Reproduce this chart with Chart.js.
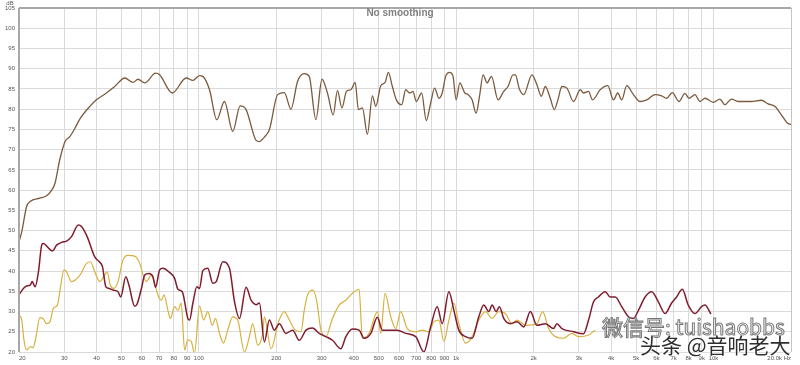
<!DOCTYPE html>
<html lang="zh">
<head>
  <meta charset="UTF-8">
  <title>No smoothing</title>
  <script src="https://cdn.jsdelivr.net/npm/chart.js"></script>
  <style>
    body { margin: 0; background: #fff; }
    #wrap { position: relative; width: 800px; height: 365px; }
    .wm { position: absolute; font-family: "Noto Sans CJK SC", sans-serif; white-space: nowrap; }
    #wm1 { left: 602px; top: 311px; font-size: 21px; color: rgba(255,255,255,0.9); -webkit-text-stroke: 1px #777; }
    #wm2 { left: 640px; top: 329px; font-size: 21px; color: #2e2e2e; text-shadow: 0 0 2px #fff, 0 0 2px #fff; }
  </style>
  <script>
    // axis ticks (REW style log grid)
    const freqTicks = [20, 30, 40, 50, 60, 70, 80, 90, 100, 200, 300, 400, 500, 600, 700, 800, 900,
      1000, 2000, 3000, 4000, 5000, 6000, 7000, 8000, 9000, 10000, 20000];
    const freqLabels = ['20', '30', '40', '50', '60', '70', '80', '90', '100', '200', '300', '400', '500',
      '600', '700', '800', '900', '1k', '2k', '3k', '4k', '5k', '6k', '7k', '8k', '9k', '10k', '20.0k Hz'];
    const dbTicks = [20, 25, 30, 35, 40, 45, 50, 55, 60, 65, 70, 75, 80, 85, 90, 95, 100, 105];

    // brown - main response
    const brownFreq = [20, 20.5, 21.4, 22.1, 24.1, 25.6, 26.8, 27.6, 28.8, 30.2, 31.5, 33, 34.5, 37.7, 40, 43.7,
      47.1, 51.5, 55.5, 58, 61.6, 67.9, 70.4, 78.8, 89.3, 94.8, 100.6, 103.6, 110, 117.4, 125.7, 135.4, 144.7,
      152.6, 166.9, 171.9, 179.7, 187.9, 202.3, 214.8, 228, 241.9, 256.7, 268.4, 285, 300.8, 316, 332.6, 345.6,
      359.6, 374.6, 389.6, 405, 416.8, 432, 451.8, 472.4, 487, 509.2, 529, 545, 564.8, 585.4, 614.2, 636.4,
      659.6, 679.2, 699.6, 734, 765, 795.6, 824.6, 856.8, 882.4, 909.8, 942.8, 970.6, 999.6, 1033, 1080, 1113,
      1153, 1195, 1232, 1272, 1318, 1371, 1454, 1530, 1590, 1662, 1698, 1760, 1830, 1970, 2060, 2142, 2220,
      2320, 2406, 2484, 2574, 2692, 2858, 3034, 3124, 3268, 3386, 3626, 3882, 4084, 4244, 4398, 4598, 4884,
      5184, 5498, 5924, 6286, 6572, 6916, 7338, 7746, 8028, 8468, 8854, 9260, 9974, 10586, 11068, 11738,
      12462, 13228, 14032, 15346, 16292, 17294, 18344, 19352, 20000];
    const brownDb = [47.3, 49.7, 55.9, 57.2, 58, 58.6, 60, 61.7, 67.5, 72, 73.2, 75.3, 77.6, 80.7, 82.3, 84,
      85.6, 87.7, 86.6, 87.4, 86.5, 88.9, 88.5, 84, 87.7, 87.1, 88.3, 88.1, 84.8, 77.4, 81.9, 74.5, 80.8,
      79.9, 72.3, 72, 73.1, 74.9, 83.6, 84.1, 80, 86.9, 88.8, 88.1, 77.4, 87.4, 84, 78.6, 84.6,
      80.3, 84.4, 84.8, 86.6, 79.9, 80.3, 73.8, 83.3, 80.7, 85.8, 86.6, 89.1, 85.6, 82.3, 81.1, 84.8,
      84, 84.4, 81.9, 84, 77.2, 81.5, 85.2, 82.7, 84, 88.1, 89.1, 88.3, 82.3, 86.5, 84, 83.6,
      82.3, 79, 83.2, 88.5, 86.5, 88.1, 82.3, 84.4, 85.6, 88.5, 88.5, 85, 83.6, 88.5, 86, 83.2, 85.6,
      82.7, 79.9, 82.3, 85.6, 85.2, 81.9, 84.8, 84, 84.4, 82.3, 84.8, 85.8, 82.3, 84, 82.3, 85.8, 83.6,
      81.9, 82.3, 83.6, 83.3, 82.7, 84.1, 81.9, 83.9, 82.7, 83.6, 81.9, 82.7, 81.7, 82.5, 81.1, 82.5,
      81.9, 81.9, 81.9, 82.2, 81.3, 80.7, 78.6, 76.6, 76.2];

    // dark red
    const redFreq = [20, 20.8, 21.4, 22.1, 22.5, 23.1, 23.8, 24.5, 24.8, 27, 28, 29.3, 30.6, 32, 34, 35, 36.8,
      39.4, 41, 42.2, 43.5, 44.8, 46.4, 48.5, 49.7, 52, 53.5, 56.3, 57.5, 59.8, 61.6, 64, 66.3, 67.9, 70.4,
      72.5, 76.5, 80.5, 82.9, 86.2, 90.6, 92, 94.8, 98.2, 100.6, 103.6, 108.3, 113.3, 116.8, 123.9, 131.5,
      137.5, 143.8, 152.6, 159.6, 166.9, 171.9, 179.7, 187.9, 196.4, 205.4, 218, 231.4, 245.6, 260.8, 276.4,
      293.6, 311.6, 330.6, 356.2, 372.6, 395, 419.4, 438.6, 465.8, 494, 516.4, 548.4, 590.6, 636.4, 696, 749,
      795.6, 843.8, 882.4, 936.6, 979.4, 1024, 1087, 1153, 1224, 1280, 1339, 1379, 1429, 1473, 1530, 1625,
      1724, 1830, 1942, 2060, 2220, 2390, 2462, 2574, 2858, 3124, 3268, 3418, 3572, 3794, 3968, 4148, 4398,
      4670, 4884, 5106, 5420, 5748, 6102, 6480, 6872, 7186, 7562, 7974, 8468, 8984, 9260, 9772];
    const redDb = [34.1, 35.7, 36.3, 36.5, 37.4, 36.1, 39.8, 46.4, 46.8, 45, 46.4, 47.1, 47.4, 48.5, 51.4, 51,
      48.5, 43.5, 42.3, 41.1, 36.1, 35.7, 35.3, 34.9, 33.6, 38.6, 36.5, 31.3, 31.8, 35.7, 39, 39.4, 38.6, 36,
      40.3, 40.7, 39.8, 38.2, 35.5, 34.9, 28.3, 27.9, 32.1, 36.1, 35.7, 40.1, 40.7, 37, 37.4, 42.3, 40.7,
      32.5, 28.3, 36, 32.8, 31.7, 32.1, 22.5, 27.9, 25.4, 27, 24.6, 25.4, 22.9, 25.4, 25.9,
      24.6, 23.8, 22.9, 20.8, 23.8, 25.7, 25.4, 23.4, 24.6, 28.6, 25.4, 25.4, 25.4, 24.6, 23.8, 20,
      26.2, 31.2, 27, 34.9, 30.3, 25.4, 23.8, 23.4, 28.7, 31.6, 30, 31.6, 30, 31.2, 28.3, 27,
      27.5, 26.2, 30, 26.6, 27, 25.8, 27, 25.8, 25, 24.5, 27.9, 32.4, 33.6, 34.9, 33.6, 33.6, 31.2,
      28.7, 28.3, 30.3, 33.6, 34.9, 32.4, 29.5, 32.1, 33.6, 35.5, 31.6, 29.5, 31.2, 31.6, 29.4];

    // yellow
    const yellowFreq = [20, 20.5, 20.9, 21.4, 22.1, 22.7, 23.3, 24.1, 24.8, 25.6, 26.4, 27.2, 28.2, 29, 29.9,
      30.6, 32, 34.5, 36.6, 37.9, 39.4, 41.2, 42.7, 44, 45.3, 46.7, 48.5, 50.7, 53, 56.3, 58.9, 61, 62.5,
      65.4, 67.3, 69.3, 71.5, 73.2, 75.8, 77.5, 80.5, 82.9, 85.4, 88, 90.6, 93.4, 96.2, 100.6, 104.3, 108.3,
      112.7, 116, 120.3, 124.6, 129.5, 135.4, 141.6, 150.3, 157.2, 161.9, 169.3, 177, 179.7, 190.8, 204.1,
      214.8, 224.6, 237, 249.4, 256.7, 264.4, 278.2, 286.6, 298.2, 311.6, 330.6, 350.8, 372.6, 395, 419.4,
      432, 458.8, 494, 509.2, 529, 556.8, 582.2, 608.6, 645.6, 696, 738.2, 783.4, 819.2, 856.8, 895.8, 936.6,
      979.4, 1024, 1087, 1153, 1224, 1300, 1379, 1463, 1554, 1648, 1724, 1858, 2060, 2168, 2286, 2428, 2614,
      2816, 2988, 3268, 3468];
    const yellowDb = [29.1, 27.9, 23, 20.5, 21.3, 21.1, 23.8, 28.5, 28.3, 27, 27.5, 30.8, 31.6, 36.1, 40.3,
      39.8, 37.4, 39, 41.9, 42.3, 39.8, 37.4, 38.6, 39.8, 36.5, 35.7, 37.4, 42.7, 43.9, 43.7, 41.9, 38.6, 37.4,
      39, 37, 34.1, 32.8, 34.1, 30.3, 28.3, 31.2, 30.3, 32.1, 20.5, 23, 22.6, 19.8, 31.4, 27.9, 30,
      26.6, 28.3, 24.6, 22.2, 25.4, 28.7, 27.9, 20, 23.8, 27, 21.7, 24.6, 28.7, 20.8, 27.5,
      30, 27.9, 25.4, 25, 30.3, 34.1, 35.3, 32.8, 25.4, 23.8, 28.3, 31.6, 32.8, 34.5, 35.5,
      23.4, 24.6, 30, 24.6, 34.5, 28.7, 25.8, 30, 25.8, 25, 25.4, 25, 27.5, 27.9, 22.6, 27.9,
      32.1, 27, 22.2, 23.8, 27.9, 30, 28.3, 30, 29.5, 27, 27.9, 26.6, 27, 30, 25.8, 23.8, 23.4,
      24.6, 23.8, 24.2, 25.4];

    function pts(fs, ds) {
      return fs.map((f, i) => ({ x: f, y: ds[i] }));
    }
  </script>
</head>

<body>
  <div id="wrap">
    <canvas id="rewChart" width="800" height="365"></canvas>
    <div class="wm" id="wm1">微信号: tuishaobbs</div>
    <div class="wm" id="wm2">头条 @音响老大</div>
  </div>

  <script>
    // frame, title and dB label drawn over the plot like REW does
    const framePlugin = {
      id: 'frame',
      afterDraw(chart) {
        const ctx = chart.ctx;
        const a = chart.chartArea;
        ctx.save();
        ctx.strokeStyle = '#a8a8a8';
        ctx.lineWidth = 2;
        ctx.beginPath();
        ctx.moveTo(a.left, a.top);
        ctx.lineTo(a.right, a.top);
        ctx.moveTo(a.left, a.top);
        ctx.lineTo(a.left, a.bottom);
        ctx.stroke();
        ctx.lineWidth = 1;
        ctx.strokeStyle = '#c4c4c4';
        ctx.beginPath();
        ctx.moveTo(a.right + 0.5, a.top);
        ctx.lineTo(a.right + 0.5, a.bottom);
        ctx.stroke();

        ctx.fillStyle = '#808080';
        ctx.font = 'bold 10px "Liberation Sans", sans-serif';
        ctx.textAlign = 'center';
        ctx.textBaseline = 'middle';
        ctx.fillText('No smoothing', 400, 13);

        ctx.fillStyle = '#555';
        ctx.font = '6px "Liberation Sans", sans-serif';
        ctx.fillText('dB', 10, 3);
        ctx.restore();
      }
    };

    new Chart(document.getElementById('rewChart'), {
      type: 'line',
      data: {
        datasets: [{
          data: pts(brownFreq, brownDb),
          borderColor: '#7b5a3e',
          borderWidth: 1.3
        }, {
          data: pts(redFreq, redDb),
          borderColor: '#801c2e',
          borderWidth: 1.5
        }, {
          data: pts(yellowFreq, yellowDb),
          borderColor: '#d8b03e',
          borderWidth: 1.2
        }]
      },
      options: {
        responsive: false,
        devicePixelRatio: 1,
        animation: false,
        layout: { padding: { top: 8, right: 9, left: 0, bottom: 0 } },
        elements: {
          point: { radius: 0 },
          line: { cubicInterpolationMode: 'monotone' }
        },
        plugins: { legend: { display: false }, tooltip: { enabled: false } },
        scales: {
          x: {
            type: 'logarithmic',
            min: 20,
            max: 20000,
            afterBuildTicks: (scale) => { scale.ticks = freqTicks.map(v => ({ value: v })); },
            afterFit: (scale) => { scale.height = 13; scale.paddingLeft = 0; scale.paddingRight = 0; },
            grid: { color: '#dadada', drawTicks: false },
            border: { display: false },
            ticks: {
              autoSkip: false,
              maxRotation: 0,
              align: 'inner',
              padding: 3,
              color: '#555',
              font: { size: 6, family: 'Liberation Sans' },
              callback: (v, i) => freqLabels[i]
            }
          },
          y: {
            min: 20,
            max: 105,
            afterBuildTicks: (scale) => { scale.ticks = dbTicks.map(v => ({ value: v })); },
            afterFit: (scale) => { scale.width = 19; },
            grid: { color: '#dadada', drawTicks: false },
            border: { display: false },
            ticks: {
              padding: 4,
              color: '#555',
              font: { size: 6, family: 'Liberation Sans' },
              callback: (v) => String(v)
            }
          }
        }
      },
      plugins: [framePlugin]
    });
  </script>
</body>

</html>
